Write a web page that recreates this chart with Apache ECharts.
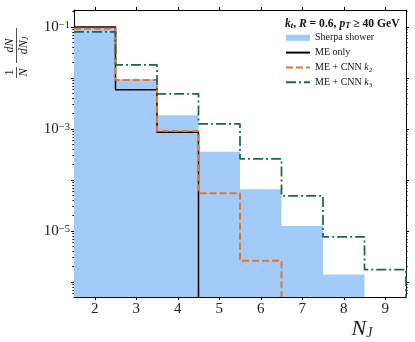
<!DOCTYPE html>
<html><head><meta charset="utf-8">
<script src="https://cdn.jsdelivr.net/npm/echarts@6/dist/echarts.min.js"></script>
<style>html,body{margin:0;padding:0;background:#fff}#c{width:415px;height:342px}</style>
</head><body><div id="c"></div>
<script>
// ---- data ----
const bins = [2, 3, 4, 5, 6, 7, 8, 9];
const sherpaShower = [0.097, 0.0095, 0.00186, 0.00036, 6.6e-5, 1.26e-5, 1.4e-6, null];
const meOnly       = [0.100, 0.0059, 0.00086, null, null, null, null, null];
const meCnnK2      = [0.092, 0.0091, 0.00091, 5.5e-5, 2.6e-6, null, null, null];
const meCnnK3      = [0.080, 0.018, 0.0049, 0.00126, 2.6e-4, 4.9e-5, 7.7e-6, 1.74e-6];
const xTickValues  = [2, 3, 4, 5, 6, 7, 8, 9];
const yMajorTicks  = [1e-6, 1e-5, 1e-4, 1e-3, 1e-2, 1e-1];
const yLabelTicks  = [1e-5, 1e-3, 1e-1];
const seriesNames  = ['Sherpa shower', 'ME only', 'ME + CNN k2', 'ME + CNN k3'];

const X_MIN = 1.5, X_MAX = 9.5, Y_MIN = 5.08e-7, Y_MAX = 0.2154;
const BLUE = '#a2cbfa', ORANGE = '#e0782c', GREEN = '#17684f';
const FONT = '"Liberation Serif", "DejaVu Serif", serif';

const yMinorTicks = [];
for (let e = -7; e <= -1; e++) for (let k = 2; k <= 9; k++) {
  const v = k * Math.pow(10, e);
  if (v > Y_MIN && v < Y_MAX) yMinorTicks.push(v);
}

function stepOutline(vals) {
  const pts = []; let last = -1;
  vals.forEach((v, i) => { if (v != null) { pts.push([bins[i] - 0.5, v], [bins[i] + 0.5, v]); last = i; } });
  pts.push([bins[last] + 0.5, Y_MIN]);
  return pts;
}

const chart = echarts.init(document.getElementById('c'), null, {renderer: 'canvas'});
const axLine = {show: true, lineStyle: {color: '#000', width: 1}};
function xAx(pos, labels) {
  return {type: 'value', position: pos, min: X_MIN, max: X_MAX, axisLine: axLine, splitLine: {show: false},
    axisTick: {show: true, inside: false, length: 3, customValues: xTickValues, lineStyle: {color: '#000', width: 1}},
    axisLabel: labels ? {show: true, customValues: xTickValues, margin: 5, fontFamily: FONT, fontSize: 15, lineHeight: 15, color: '#222'} : {show: false}};
}
function yAx(pos, ticks, len, labels, line) {
  return {type: 'log', logBase: 10, position: pos, min: Y_MIN, max: Y_MAX,
    axisLine: line ? axLine : {show: false}, splitLine: {show: false},
    axisTick: {show: true, inside: false, length: len, customValues: ticks, lineStyle: {color: '#000', width: 1}},
    axisLabel: labels ? {show: true, customValues: yLabelTicks, margin: 4,
      formatter: v => '{b|10}{s|\u2212' + (-Math.round(Math.log10(v))) + '}',
      rich: {b: {fontFamily: FONT, fontSize: 15, color: '#222', lineHeight: 15, verticalAlign: 'bottom'},
             s: {fontFamily: FONT, fontSize: 10.5, color: '#222', lineHeight: 11, padding: [0, 0, 6, 0], verticalAlign: 'top'}}} : {show: false}};
}
const legendLabels = {
  'Sherpa shower': 'Sherpa shower',
  'ME only': 'ME only',
  'ME + CNN k2': 'ME + CNN {i|k}{sub|2}',
  'ME + CNN k3': 'ME + CNN {i|k}{sub|3}'
};
function lineSeries(name, vals, ls) {
  return {name, type: 'line', data: stepOutline(vals), symbol: 'none', showSymbol: false,
    lineStyle: ls, itemStyle: {color: ls.color}, xAxisIndex: 0, yAxisIndex: 0, clip: true, z: 3};
}
const noSymbol = {opacity: 0, borderWidth: 0};
chart.setOption({
  animation: false,
  backgroundColor: '#fff',
  grid: {left: 74, right: 9, top: 10, bottom: 45, containLabel: false},
  xAxis: [xAx('bottom', true), xAx('top', false)],
  yAxis: [yAx('left', yMajorTicks, 3, true, true), yAx('right', yMajorTicks, 3, false, true),
          yAx('left', yMinorTicks, 1.6, false, false), yAx('right', yMinorTicks, 1.6, false, false)],
  legend: {orient: 'vertical', left: 285, top: 31.8, padding: 0, itemWidth: 24, itemHeight: 6, itemGap: 2.8,
    textStyle: {fontFamily: FONT, fontSize: 10, color: '#111', lineHeight: 12,
      rich: {i: {fontFamily: FONT, fontSize: 10, fontStyle: 'italic', color: '#111'},
             sub: {fontFamily: FONT, fontSize: 7, color: '#111', verticalAlign: 'bottom', padding: [5, 0, 0, 0]}}},
    formatter: n => legendLabels[n],
    data: [{name: seriesNames[0], icon: 'rect', itemStyle: {color: BLUE}},
           {name: seriesNames[1], itemStyle: noSymbol},
           {name: seriesNames[2], itemStyle: noSymbol},
           {name: seriesNames[3], itemStyle: noSymbol}]},
  series: [
    {name: seriesNames[0], type: 'line', data: stepOutline(sherpaShower), symbol: 'none', showSymbol: false,
      lineStyle: {width: 0, opacity: 0}, itemStyle: {color: BLUE}, areaStyle: {color: BLUE, opacity: 1, origin: 'start'},
      xAxisIndex: 0, yAxisIndex: 0, z: 1},
    lineSeries(seriesNames[1], meOnly, {color: '#000', width: 1.5}),
    lineSeries(seriesNames[2], meCnnK2, {color: ORANGE, width: 2, type: [7, 3]}),
    lineSeries(seriesNames[3], meCnnK3, {color: GREEN, width: 1.75, type: [10, 3, 2, 3]})
  ],
  graphic: [
    {type: 'text', left: 285, top: 18, style: {
      text: '{bi|k}{bs|t}{b|, }{bi|R}{b| = 0.6, }{bi|p}{bs|T}{b| \u2265 40 GeV}',
      rich: {b: {fontFamily: FONT, fontSize: 11.6, fontWeight: 'bold', fill: '#111'},
             bi: {fontFamily: FONT, fontSize: 11.6, fontWeight: 'bold', fontStyle: 'italic', fill: '#111'},
             bs: {fontFamily: FONT, fontSize: 8.5, fontWeight: 'bold', fontStyle: 'italic', fill: '#111', verticalAlign: 'bottom', padding: [4, 0, 0, 0]}}}},
    {type: 'text', x: 362, y: 329, style: {
      text: '{n|N}{j|J}', align: 'center', verticalAlign: 'middle',
      rich: {n: {fontFamily: FONT, fontSize: 22, fontStyle: 'italic', fill: '#222', lineHeight: 22, verticalAlign: 'bottom'},
             j: {fontFamily: FONT, fontSize: 14, fontStyle: 'italic', fill: '#222', lineHeight: 12, padding: [8, 0, 0, 0], verticalAlign: 'bottom'}}}},
    {type: 'group', x: 16.5, y: 78, rotation: Math.PI / 2, children: [
      {type: 'text', x: 5.5, y: -1, style: {text: '1', fontFamily: FONT, fontSize: 12, fill: '#222', align: 'center', verticalAlign: 'bottom'}},
      {type: 'line', shape: {x1: 0, y1: 0, x2: 11, y2: 0}, style: {stroke: '#222', lineWidth: 0.8}},
      {type: 'text', x: 5.5, y: 1, style: {text: 'N', fontFamily: FONT, fontSize: 12, fontStyle: 'italic', fill: '#222', align: 'center', verticalAlign: 'top'}},
      {type: 'line', shape: {x1: 15, y1: 0, x2: 50, y2: 0}, style: {stroke: '#222', lineWidth: 0.8}},
      {type: 'text', x: 32.5, y: -1, style: {text: 'dN', fontFamily: FONT, fontSize: 12, fontStyle: 'italic', fill: '#222', align: 'center', verticalAlign: 'bottom'}},
      {type: 'text', x: 32.5, y: 1, style: {text: '{i|dN}{s|J}', align: 'center', verticalAlign: 'top',
        rich: {i: {fontFamily: FONT, fontSize: 12, fontStyle: 'italic', fill: '#222', lineHeight: 12, verticalAlign: 'bottom'},
               s: {fontFamily: FONT, fontSize: 8, fontStyle: 'italic', fill: '#222', lineHeight: 8, padding: [5, 0, 0, 0], verticalAlign: 'bottom'}}}}
    ]}
  ]
});
</script></body></html>
